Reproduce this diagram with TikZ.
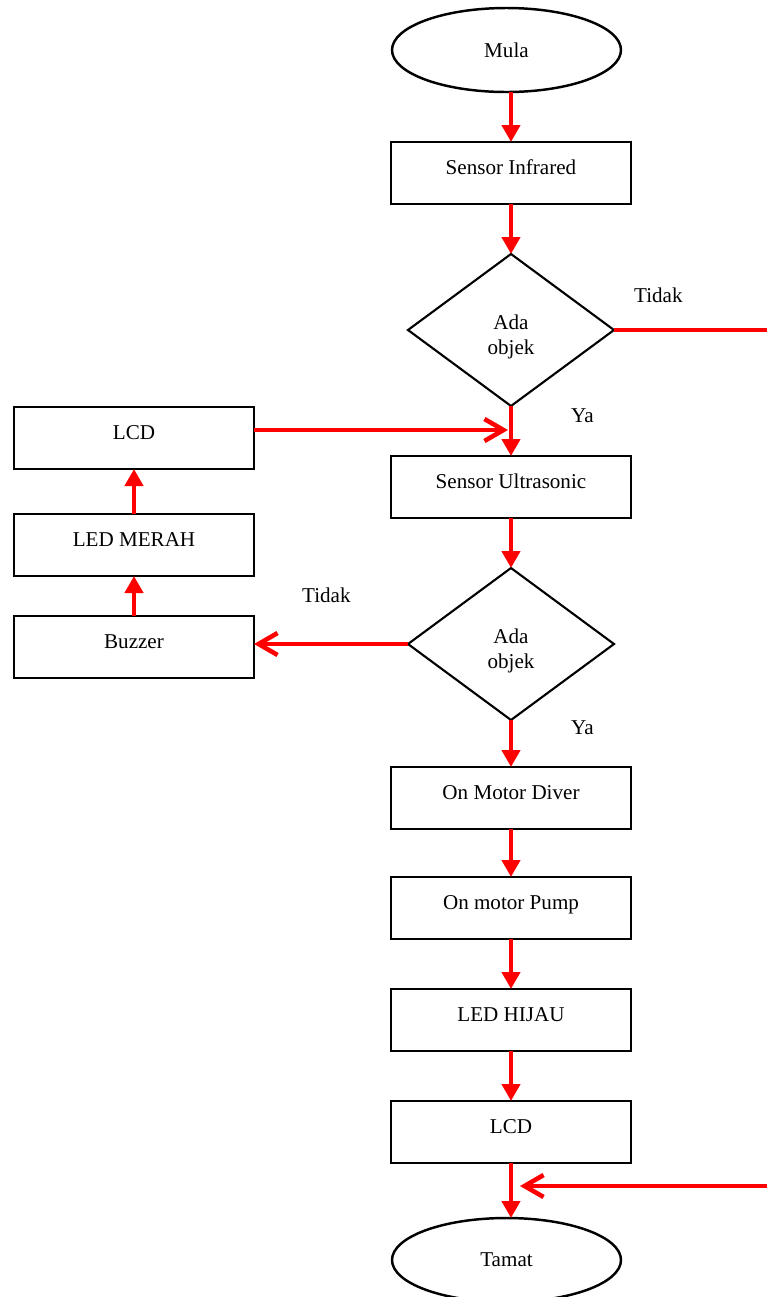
\documentclass[tikz,border=0pt]{standalone}
\usepackage{fontspec}
\setmainfont{Liberation Serif}
\usetikzlibrary{shapes.geometric, positioning, arrows.meta}

\begin{document}
\begin{tikzpicture}[font=\fontsize{12}{14}\selectfont]
        \tikzset{
            node distance=1cm, % gap between two blocks
            proses/.style={draw, rectangle, line width=1.5pt, outer sep=0pt, minimum width=4.8cm, minimum height=1.24cm, text height=0.3cm, text depth=0.24cm}, % process boxes
            terminal/.style={draw, ellipse, line width=1.4pt, outer sep=0pt, minimum width=4.58cm, minimum height=1.68cm, xshift=-0.09cm}, % start and end
            keputusan/.style={draw, diamond, line width=1.2pt, outer sep=0pt, inner sep=0pt, minimum width=4.12cm, minimum height=3.04cm, align=center, text height=1.06cm}, % decisions
            alur/.style={red, line width=2.6pt, -{Triangle[width=0.36cm, length=0.34cm]}}, % filled head
            alurbuka/.style={red, line width=2.6pt, -{Straight Barb[width=0.44cm, length=0.38cm]}}, % open head
            garis/.style={red, line width=2.6pt},
            }
        \useasboundingbox (0,0) rectangle (15.34,-25.94);

        % main column
        \node[terminal] (mula) at (10.22,-1.0) {Mula};
        \node[proses, below=of mula, xshift=0.09cm] (infrared) {Sensor Infrared};
        \node[keputusan, below=of infrared] (objek1) {Ada\\objek};
        \node[proses, below=of objek1] (ultrasonic) {Sensor Ultrasonic};
        \node[keputusan, below=of ultrasonic] (objek2) {Ada\\objek};
        \node[proses, below=0.94cm of objek2] (motordiver) {On Motor Diver};
        \node[proses, below=0.96cm of motordiver] (motorpump) {On motor Pump};
        \node[proses, below=of motorpump] (ledhijau) {LED HIJAU};
        \node[proses, below=of ledhijau] (lcdhijau) {LCD};
        \node[terminal, below=1.1cm of lcdhijau] (tamat) {Tamat};

        % left column
        \node[proses, left=3.08cm of objek2, yshift=-0.06cm] (buzzer) {Buzzer};
        \node[proses, above=0.8cm of buzzer] (ledmerah) {LED MERAH};
        \node[proses, above=0.9cm of ledmerah] (lcdmerah) {LCD};

        % junctions and loose ends
        \coordinate[below=0.48cm of objek1.south] (gabung1);
        \coordinate[right=3.06cm of objek1.east] (kanan1);
        \coordinate[below=0.46cm of lcdhijau.south] (gabung2);
        \coordinate[right=5.12cm of gabung2] (kanan2);

        % main flow
        \draw[alur] (mula.south -| infrared.north) -- (infrared.north);
        \draw[alur] (infrared) -- (objek1);
        \draw[alur] (objek1) -- node[pos=0.2, right=1.04cm, black] {Ya} (ultrasonic);
        \draw[garis] (objek1.east) -- node[pos=0.29, above=0.38cm, black] {Tidak} (kanan1);
        \draw[alur] (ultrasonic) -- (objek2);
        \draw[alur] (objek2) -- node[pos=0.17, right=1.04cm, black] {Ya} (motordiver);
        \draw[alur] (motordiver) -- (motorpump);
        \draw[alur] (motorpump) -- (ledhijau);
        \draw[alur] (ledhijau) -- (lcdhijau);
        \draw[alur] (lcdhijau.south) -- (lcdhijau.south |- tamat.north);
        \draw[alurbuka] (kanan2) -- ([xshift=0.18cm]gabung2);

        % left loop
        \draw[alurbuka] (objek2.west) -- node[pos=0.53, above=0.66cm, black] {Tidak} (objek2.west -| buzzer.east);
        \draw[alur] (buzzer) -- (ledmerah);
        \draw[alur] (ledmerah) -- (lcdmerah);
        \draw[alurbuka] (lcdmerah.east |- gabung1) -- ([xshift=-0.06cm]gabung1);
\end{tikzpicture}
\end{document}
